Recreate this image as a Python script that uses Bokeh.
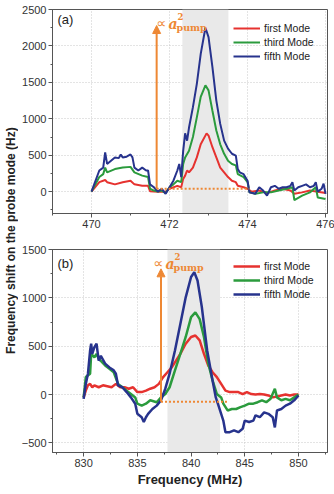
from bokeh.plotting import figure
from bokeh.layouts import row, column
from bokeh.models import (Range1d, BoxAnnotation, Arrow, NormalHead,
                          Label, Legend, LegendItem, SingleIntervalTicker)
from bokeh.embed import file_html
from bokeh.resources import INLINE

# ---------------- panel (a): 470-476 MHz ----------------
fa_fifth = [470.0, 470.2, 470.3, 470.35, 470.4, 470.5, 470.6, 470.7, 470.75, 470.8, 470.9, 471.0,
            471.05, 471.1, 471.2, 471.3, 471.4, 471.45, 471.5, 471.6, 471.7, 471.8, 471.9, 472.0,
            472.1, 472.2, 472.25, 472.3, 472.35, 472.4, 472.45, 472.5, 472.6, 472.7, 472.8, 472.92,
            473.0, 473.1, 473.2, 473.3, 473.4, 473.5, 473.6, 473.7, 473.75, 473.8, 473.9, 474.0,
            474.05, 474.2, 474.3, 474.4, 474.5, 474.6, 474.7, 474.8, 474.9, 475.0, 475.1, 475.15,
            475.2, 475.3, 475.4, 475.5, 475.6, 475.7, 475.75, 475.8, 475.9, 475.95, 476.0]
sa_fifth = [0, 290, 330, 540, 380, 425, 470, 460, 510, 470, 480, 510,
            470, 330, 290, 330, 290, 290, 100, 60, 0, 40, -30, 60,
            150, 290, 380, 200, 560, 800, 700, 880, 1160, 1480, 1890, 2250,
            2120, 1710, 1250, 930, 700, 590, 520, 495, 310, 265, 240, 150,
            -10, -30, 60, 15, -55, 60, 80, 40, 60, 60, 80, 130,
            15, 60, 80, 100, 60, 80, 130, 0, 40, 110, -30]

fa_third = [470.0, 470.2, 470.3, 470.35, 470.4, 470.6, 470.8, 471.0, 471.1, 471.3, 471.45, 471.5,
            471.6, 471.7, 471.8, 471.9, 472.0, 472.1, 472.2, 472.3, 472.35, 472.4, 472.5, 472.6,
            472.7, 472.8, 472.92, 473.0, 473.1, 473.2, 473.3, 473.4, 473.5, 473.6, 473.7, 473.75,
            473.9, 474.0, 474.05, 474.2, 474.4, 474.6, 474.8, 475.0, 475.15, 475.2, 475.4, 475.6,
            475.75, 475.8, 476.0]
sa_third = [0, 200, 240, 330, 265, 310, 330, 340, 265, 220, 200, 40,
            15, 0, 15, -20, 60, 100, 150, 130, 380, 470, 560, 750,
            1020, 1300, 1460, 1390, 1110, 840, 650, 520, 425, 380, 360, 240,
            200, 130, -10, -30, -10, -10, 15, 40, 60, -115, -55, -10,
            60, -80, -100]

fa_first = [470.0, 470.2, 470.35, 470.4, 470.6, 470.8, 471.0, 471.1, 471.3, 471.45, 471.5, 471.7,
            471.9, 472.0, 472.2, 472.3, 472.35, 472.4, 472.45, 472.5, 472.6, 472.7, 472.8, 472.95,
            473.0, 473.1, 473.2, 473.3, 473.4, 473.5, 473.6, 473.7, 473.75, 473.9, 474.0, 474.1,
            474.3, 474.5, 474.7, 474.9, 475.1, 475.2, 475.4, 475.6, 475.8, 476.0]
sa_first = [0, 130, 160, 130, 100, 130, 150, 100, 80, 80, 5, 0,
            0, 40, 80, 60, 175, 220, 290, 265, 330, 470, 650, 800,
            770, 610, 470, 330, 265, 200, 150, 130, 80, 60, 40, 0,
            15, -20, 15, 40, 15, -30, -10, 15, 0, -20]

# ---------------- panel (b): 830-850 MHz ----------------
fb_fifth = [830.0, 830.2, 830.4, 830.6, 830.7, 830.8, 831.0, 831.2, 831.4, 831.6, 832.0, 832.4,
            832.8, 833.0, 833.2, 833.6, 834.0, 834.4, 834.8, 835.0, 835.4, 835.6, 835.8, 836.0,
            836.4, 836.8, 837.2, 837.6, 838.0, 838.5, 839.0, 839.5, 840.0, 840.3, 840.6, 841.0,
            841.5, 842.0, 842.3, 842.6, 843.0, 843.2, 843.6, 844.0, 844.4, 844.8, 845.0, 845.4,
            845.8, 846.0, 846.4, 846.8, 847.2, 847.6, 847.8, 848.0, 848.4, 848.8, 849.2, 849.6,
            850.0]
sb_fifth = [-45, 110, 215, 455, 525, 420, 490, 525, 350, 400, 320, 280,
            250, 215, 95, 75, 25, -30, -95, -200, -235, -285, -235, -200,
            -150, -115, -60, 60, 215, 455, 730, 1005, 1215, 1265, 1180, 905,
            455, 145, -30, -130, -270, -390, -390, -370, -390, -355, -270, -285,
            -270, -215, -235, -185, -200, -235, -340, -165, -150, -115, -95, -60,
            -10]

fb_third = [830.0, 830.2, 830.6, 830.7, 831.0, 831.2, 831.4, 832.0, 832.4, 832.8, 833.2, 833.6,
            834.0, 834.4, 834.8, 835.0, 835.4, 835.8, 836.2, 836.8, 837.2, 837.6, 838.0, 838.5,
            839.0, 839.5, 840.0, 840.4, 840.8, 841.2, 841.6, 842.0, 842.4, 842.8, 843.0, 843.4,
            843.8, 844.2, 844.6, 845.0, 845.4, 845.8, 846.2, 846.6, 847.0, 847.4, 847.8, 848.0,
            848.4, 848.8, 849.2, 849.6, 850.0]
sb_third = [-30, 180, 215, 420, 385, 420, 370, 300, 265, 230, 110, 75,
            40, 5, -30, -95, -115, -95, -60, -80, -30, 5, 75, 250,
            420, 595, 800, 850, 780, 595, 320, 145, 5, -30, -95, -165,
            -150, -150, -130, -115, -95, -95, -80, -60, -80, -45, 60, -30,
            -60, -45, -60, -30, 0]

fb_first = [830.0, 830.2, 830.4, 830.6, 830.8, 831.0, 831.4, 831.8, 832.2, 832.6, 833.0, 833.4,
            833.8, 834.2, 834.6, 835.0, 835.4, 835.8, 836.2, 836.6, 837.0, 837.4, 837.8, 838.2,
            838.6, 839.0, 839.5, 840.0, 840.4, 840.8, 841.2, 841.6, 842.0, 842.4, 842.8, 843.2,
            843.6, 844.0, 844.4, 844.8, 845.2, 845.6, 846.0, 846.4, 846.8, 847.2, 847.6, 848.0,
            848.4, 848.8, 849.2, 849.6, 850.0]
sb_first = [-30, 40, 95, 110, 75, 95, 75, 95, 85, 75, 110, 75,
            75, 60, 75, 25, 25, 40, 60, 75, 110, 180, 230, 280,
            350, 420, 525, 595, 610, 560, 420, 300, 230, 180, 110, 40,
            25, 25, 25, 5, 25, 5, 0, 5, 0, -10, -30, -20,
            -10, 0, -10, 0, 0]

mode_names = ["first Mode", "third Mode", "fifth Mode"]

# pump marker (arrow x, baseline level, arrow tip, end of dotted baseline) and shaded window
pump_a = dict(x=471.67, base=40, tip=2280, dot_end=474.05, band=(472.33, 473.51))
pump_b = dict(x=837.2, base=-75, tip=1300, dot_end=843.5, band=(837.8, 842.7))

RED, GREEN, BLUE, ORANGE = "#e6322f", "#2b9b3d", "#27338d", "#ee8834"
FONT = "Liberation Sans"
SERIF = "DejaVu Serif"
TITLE_W = 18          # width of the strip holding the shared y-axis title
PLOT_W = 334 - TITLE_W


def style(p, xint, yint):
    p.outline_line_color = "#555555"
    p.outline_line_width = 1
    xt = SingleIntervalTicker(interval=xint, num_minor_ticks=2)
    yt = SingleIntervalTicker(interval=yint, num_minor_ticks=2)
    p.xaxis.ticker = xt
    p.yaxis.ticker = yt
    p.xgrid.ticker = xt
    p.ygrid.ticker = yt
    for g in (p.xgrid, p.ygrid):
        g.grid_line_color = "#c8c8c8"
        g.grid_line_dash = "1 2"
        g.grid_line_width = 1
    for ax in (p.xaxis, p.yaxis):
        ax.axis_line_color = "#555555"
        ax.major_tick_in = 0
        ax.major_tick_out = 4
        ax.minor_tick_in = 0
        ax.minor_tick_out = 2
        ax.major_tick_line_color = "#555555"
        ax.minor_tick_line_color = "#555555"
        ax.major_label_text_font = FONT
        ax.major_label_text_font_size = "11px"
        ax.major_label_text_color = "#333333"
        ax.major_label_standoff = 2


def panel(p, series, pump, lw, legend_loc, tag, sup_pos):
    lo, hi = pump["band"]
    p.add_layout(BoxAnnotation(left=lo, right=hi, fill_color="#e9e9e9", fill_alpha=1,
                               line_color=None, level="underlay"))
    items = []
    for (xs, ys, col), name in zip(series, mode_names):
        r = p.line(xs, ys, line_color=col, line_width=lw)
        items.append(LegendItem(label=name, renderers=[r]))
    # dotted baseline and pump arrow
    p.line([pump["x"], pump["dot_end"]], [pump["base"], pump["base"]],
           line_color=ORANGE, line_width=2, line_dash="2 2")
    p.add_layout(Arrow(x_start=pump["x"], y_start=pump["base"], x_end=pump["x"], y_end=pump["tip"],
                       line_color=ORANGE, line_width=2,
                       end=NormalHead(size=8, fill_color=ORANGE, line_color=ORANGE)))
    leg = Legend(items=items, location=legend_loc, border_line_color=None,
                 background_fill_alpha=0, padding=0, spacing=0, margin=0,
                 glyph_height=14, glyph_width=27, label_standoff=4, label_height=14,
                 label_text_font=FONT, label_text_font_size="10.5px",
                 label_text_color="#222222")
    p.add_layout(leg, "center")
    p.add_layout(Label(x=5, y=tag[1], x_units="screen", y_units="screen", text=tag[0],
                       text_font=FONT, text_font_size="13px", text_color="#222222",
                       text_baseline="middle"))
    # proportional-to label: ∝ a²_pump
    sx, sy = sup_pos
    p.add_layout(Label(x=sx, y=sy, x_units="screen", y_units="screen", text="\u221d",
                       text_font="DejaVu Sans", text_font_size="14px",
                       text_color=ORANGE, text_baseline="middle"))
    p.add_layout(Label(x=sx + 12, y=sy - 1, x_units="screen", y_units="screen", text="a",
                       text_font=SERIF, text_font_size="14px", text_font_style="bold italic",
                       text_color=ORANGE, text_baseline="middle"))
    p.add_layout(Label(x=sx + 21, y=sy + 6, x_units="screen", y_units="screen", text="2",
                       text_font=SERIF, text_font_size="8.5px", text_font_style="bold",
                       text_color=ORANGE, text_baseline="middle"))
    p.add_layout(Label(x=sx + 20, y=sy - 5, x_units="screen", y_units="screen", text="pump",
                       text_font=SERIF, text_font_size="9.5px", text_font_style="bold",
                       text_color=ORANGE, text_baseline="middle"))


pa = figure(width=PLOT_W, height=240, x_range=Range1d(469.0, 476.05), y_range=Range1d(-300, 2500),
            toolbar_location=None, output_backend="svg",
            min_border_left=30, min_border_right=7, min_border_top=9, min_border_bottom=27)
style(pa, 2, 500)
panel(pa, [(fa_first, sa_first, RED), (fa_third, sa_third, GREEN), (fa_fifth, sa_fifth, BLUE)],
      pump_a, 2, (181, 150), ("(a)", 194), (104, 191))

pb = figure(width=PLOT_W, height=254, x_range=Range1d(827.1, 852.7), y_range=Range1d(-600, 1500),
            toolbar_location=None, output_backend="svg",
            min_border_left=30, min_border_right=7, min_border_top=9, min_border_bottom=42)
style(pb, 5, 500)
xlab = pb.below[0]
xlab.axis_label = "Frequency (MHz)"
xlab.axis_label_text_font = FONT
xlab.axis_label_text_font_size = "13px"
xlab.axis_label_text_font_style = "bold"
xlab.axis_label_text_color = "#222222"
xlab.axis_label_standoff = 2
panel(pb, [(fb_first, sb_first, RED), (fb_third, sb_third, GREEN), (fb_fifth, sb_fifth, BLUE)],
      pump_b, 2.5, (181, 151), ("(b)", 189), (101, 190))

# shared y-axis title
pl = figure(width=TITLE_W, height=494, x_range=Range1d(0, 1), y_range=Range1d(0, 1),
            toolbar_location=None, output_backend="svg", min_border=0,
            outline_line_color=None)
pl.axis.visible = False
pl.grid.visible = False
pl.add_layout(Label(x=10.5 / TITLE_W, y=0.514, text="Frequency shift on the probe mode (Hz)",
                    angle=90, angle_units="deg", text_align="center", text_baseline="middle",
                    text_font=FONT, text_font_size="12px", text_font_style="bold",
                    text_color="#222222"))

layout = row(pl, column(pa, pb, spacing=0), spacing=0)
open("out.html", "w").write(file_html(layout, INLINE))
